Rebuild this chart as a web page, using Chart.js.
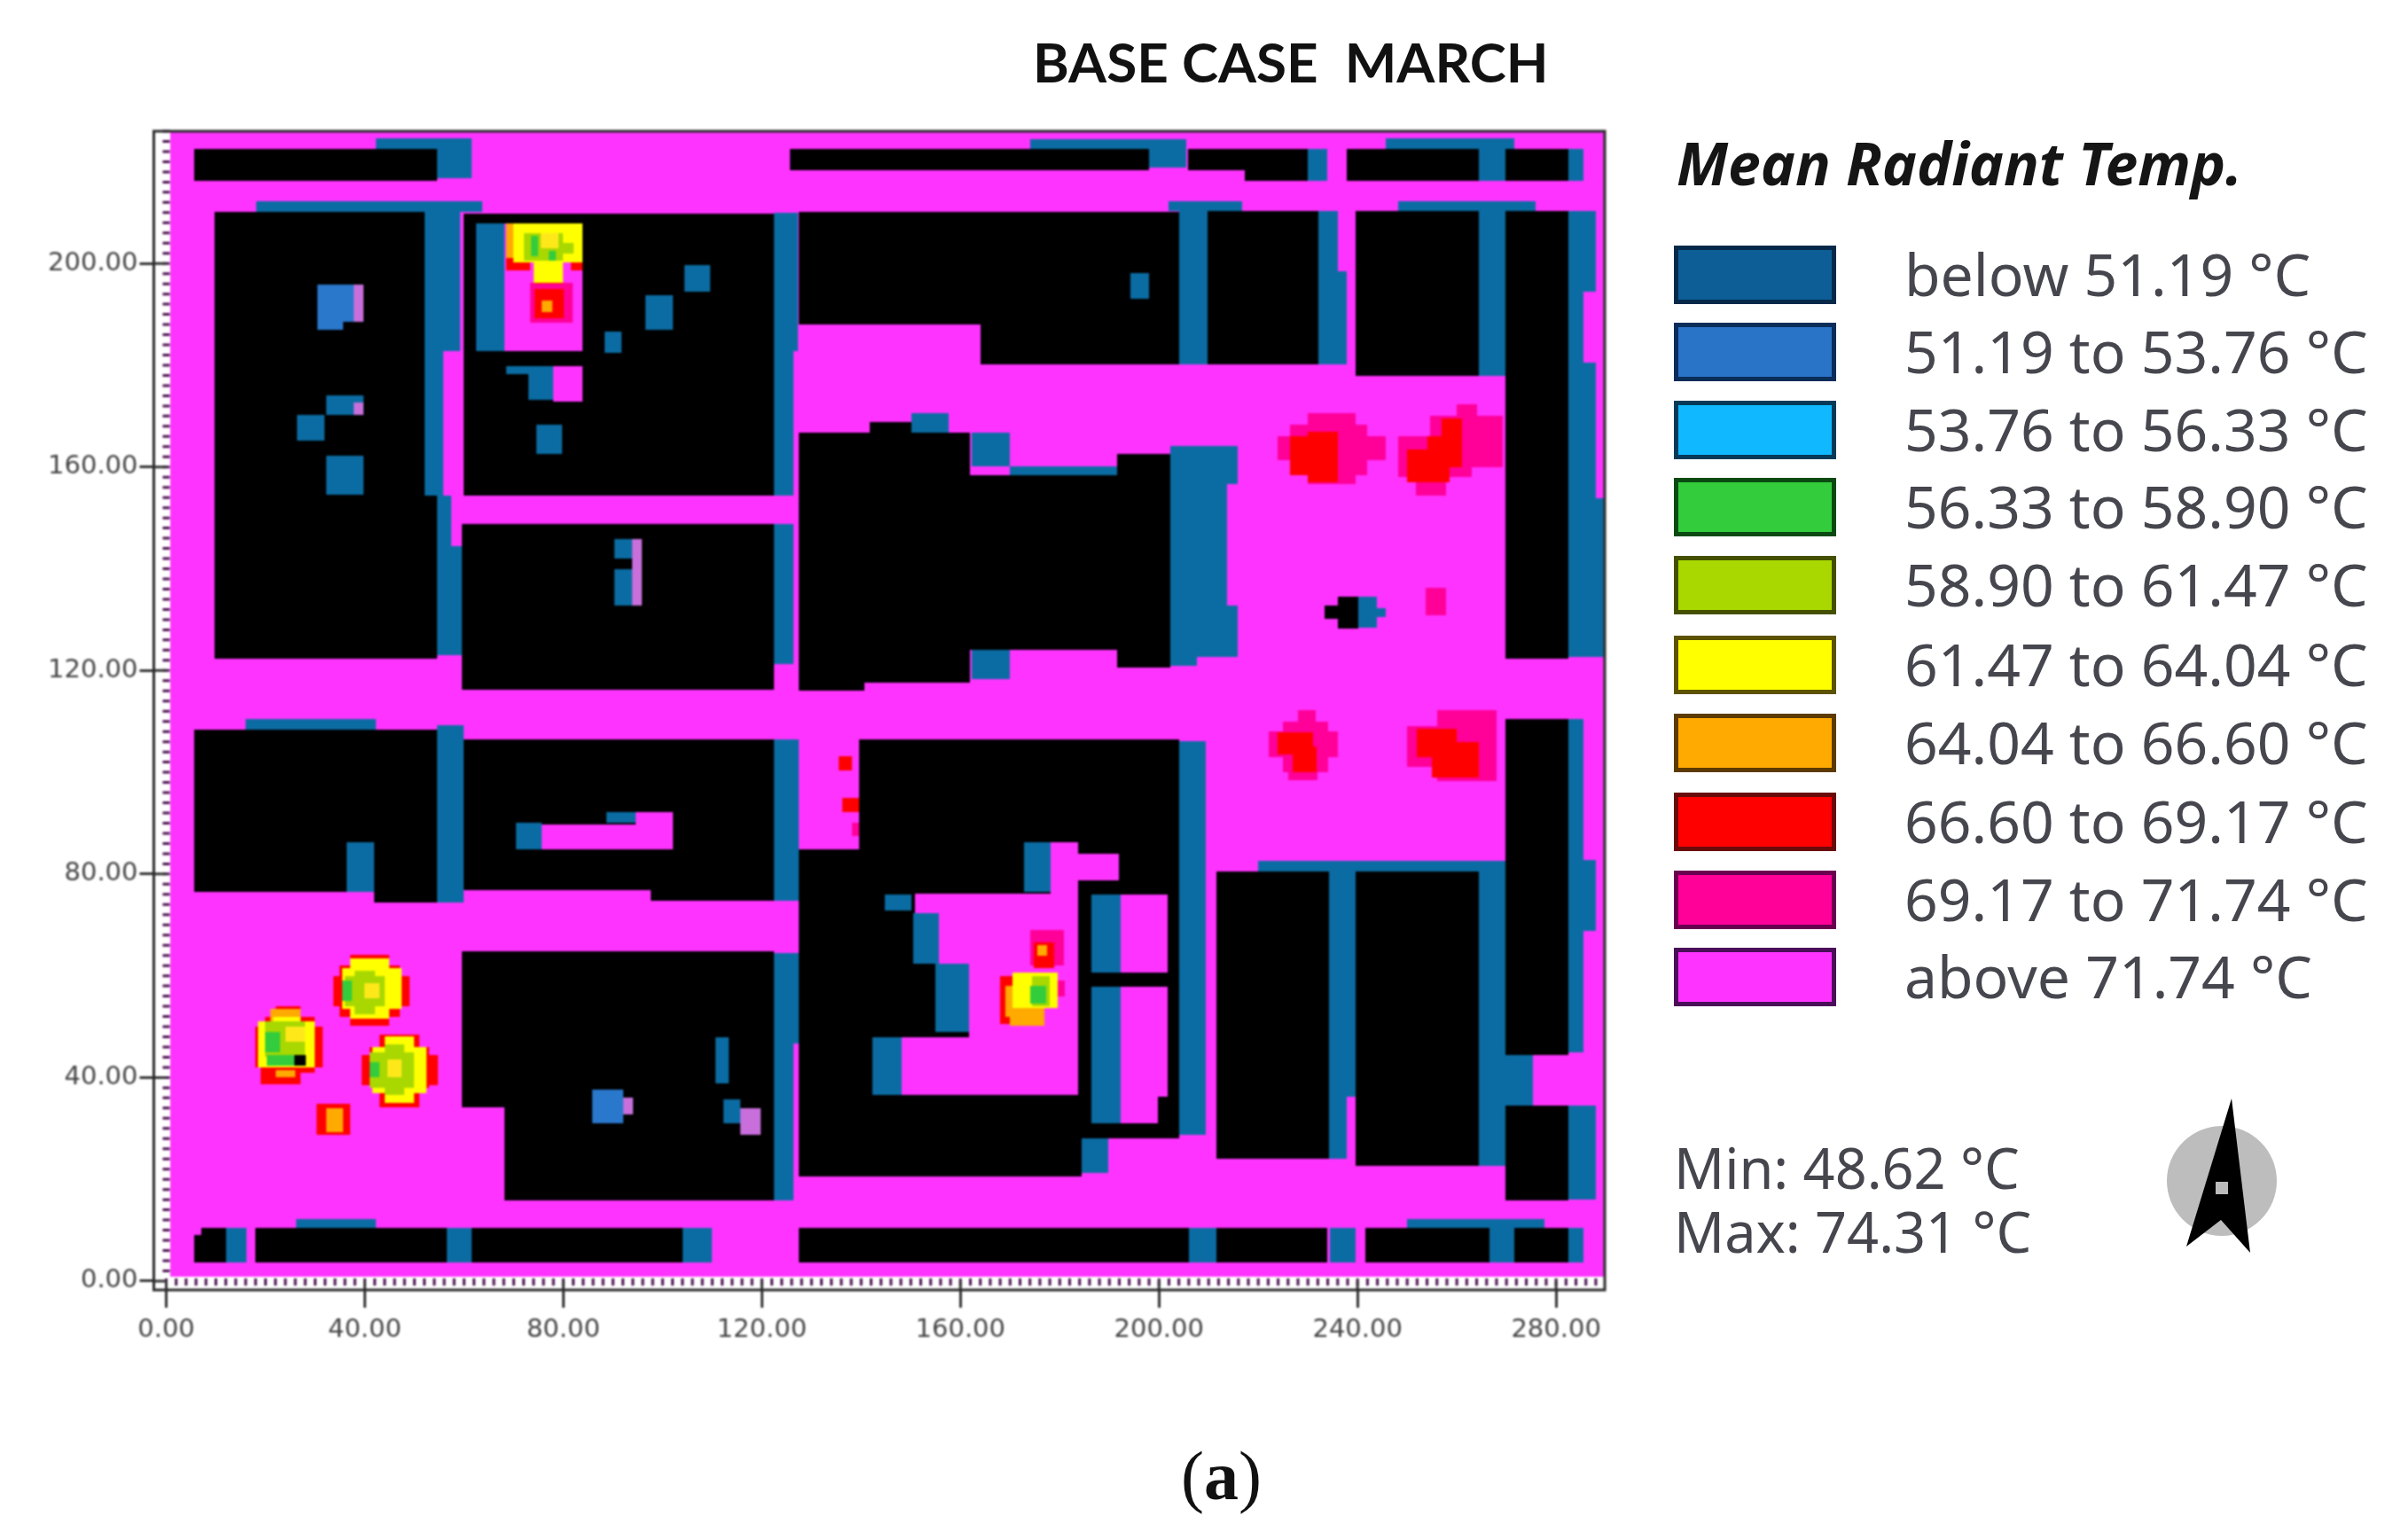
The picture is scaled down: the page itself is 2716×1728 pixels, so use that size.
<!DOCTYPE html>
<html><head><meta charset="utf-8">
<script src="https://cdn.jsdelivr.net/npm/chart.js@4/dist/chart.umd.min.js"></script>
<style>
html,body{margin:0;padding:0;background:#fff;width:2716px;height:1728px;overflow:hidden}
#c{position:absolute;left:0;top:0;filter:blur(1px)}
.t{position:absolute;white-space:pre;line-height:1;filter:blur(.7px)}
.lab{font-family:"Noto Sans";font-size:66px;color:#46464e;transform:translateY(-50%)}
.mm{font-size:63px}
.sw{position:absolute;left:1888px;width:173px;box-sizing:content-box;border:5px solid;filter:blur(.6px)}
svg{position:absolute;left:0;top:0}
</style></head><body>
<canvas id="c" width="2716" height="1728"></canvas>
<div id="over"></div>
<script>
const legendLabels=["below 51.19 °C","51.19 to 53.76 °C","53.76 to 56.33 °C","56.33 to 58.90 °C","58.90 to 61.47 °C","61.47 to 64.04 °C","64.04 to 66.60 °C","66.60 to 69.17 °C","69.17 to 71.74 °C","above 71.74 °C"];
const legendFill=["#0d5e96","#2a74c8","#0fb8ff","#33cc3c","#a8d800","#ffff00","#ffaa00","#ff0000","#ff0099","#ff33ff"];
const legendEdge=["#06294a","#0a2d5a","#063a58","#0a4a12","#445000","#5c5200","#5c3a00","#6a0a0a","#6a0050","#4a0f58"];
const xTickValues=[0,40,80,120,160,200,240,280];
const yTickValues=[0,40,80,120,160,200];

const groundCells=[[0.8,0.9,289.6,226]];
const buildingCells=[
[5.6,216.2,54.5,222.6],[125.6,218.3,198,222.6],[205.8,218.3,230,222.6],[217.3,216.2,230,218.3],[237.8,216.2,264.4,222.6],[269.8,216.2,282.5,222.6],
[9.7,154.3,52,210.1],[9.7,122.4,54.5,154.3],[60,154.3,122.5,209.8],[59.6,116.3,122.5,148.8],[127.4,188,164,210.1],[164,180.2,204,210.1],[209.8,180.2,232.1,210.4],[239.6,177.9,264.4,210.4],[269.8,122.4,282.5,210.4],
[127.4,117.7,162,166.8],[127.4,116,140.6,117.7],[141.7,166.8,150.2,168.9],[162,124,202.2,158.4],[191.5,120.5,202.2,162.5],
[5.6,76.5,54.5,108.4],[41.8,74.4,54.5,76.5],[60,76.8,122.5,106.4],[97.6,74.7,122.5,76.8],[139.6,76,204,106.4],[127.4,20.6,184.4,84.9],[184,28.1,204,76],
[211.6,24.1,234.2,80.5],[239.6,22.6,264.4,80.5],[269.8,44.5,282.5,110.5],[269.8,15.9,282.5,34.5],[59.6,34.2,122.5,64.8],[68.1,15.9,122.5,34.2],
[5.6,3.7,12.1,9],[7,9,12.1,10.4],[17.9,3.7,56.5,10.4],[61.6,3.7,104.1,10.4],[127.4,3.7,206.1,10.4],[211.6,3.7,233.9,10.4],[241.5,3.7,266.5,10.4],[271.6,3.7,282.5,10.4],
[236,128.2,240.2,134.6],[233.3,130.2,242.4,132.8]];
const shadeCells=[
[42.2,222.6,61.6,224.6],[54.5,216.8,61.6,222.6],[18.2,210.1,63.7,212.2],[52,182.8,59.3,210.1],[52,154.3,55.8,182.8],[54.5,144.5,57.5,154.3],[54.5,123,59.6,144.5],
[62.5,182.8,68.1,207.8],[32.3,170.3,37.7,174.1],[37.7,172.6,39.8,174.1],[26.4,165.1,31.9,170.3],[32.3,154.6,39.8,162.2],[72.9,173.2,78,178.2],[68.5,178.2,78,179.9],[74.6,162.5,79.8,168.3],[88.3,182.5,91.7,186.6],[96.5,186.9,102,193.8],[104.4,194.4,109.5,199.7],
[122.5,182.8,127.3,210],[122.5,154.3,126.3,182.8],[122.5,121.2,126.3,148.8],[90.3,142,93.8,145.9],[90.3,132.8,93.8,140],
[174.1,222.6,198,224.4],[198,218.8,205.5,224.4],[230,216.2,233.9,222.6],[245.7,222.6,271.6,224.6],[264.4,216.2,269.8,222.6],[282.5,216.2,285.5,222.6],[194.3,193,198,198.2],
[201.9,210.4,216.7,212.2],[204,180.2,209.8,210.4],[232.1,198.5,236,210.4],[232.1,180.2,237.8,198.5],[248.1,210.4,275.9,212.2],[264.4,177.9,269.8,210.4],
[282.5,122.7,285.5,210.4],[285.5,194.4,288,210.4],[285.5,122.7,288,180.5],[288,122.7,289.6,153.8],
[150.2,166.8,157.7,170.6],[162.2,160.1,170,166.8],[170,158.4,191.5,160.1],[162.2,118.3,170,124.1],
[202.2,132.8,213.7,156.6],[202.2,156.6,215.8,164.2],[202.2,122.7,215.8,132.8],[202.2,120.9,207.6,122.7],
[15.9,108.4,42.2,110.4],[54.5,74.4,60,109.3],[36.4,76.5,41.8,86.3],[70.5,84.9,75.6,90.1],[88.6,90.1,94.5,92.2],[122.5,74.7,127.4,106.4],
[172.8,76.5,178.2,86.3],[144.7,72.9,150.2,75.9],[150.5,62.4,155.7,72.3],[155,49,161.8,62.4],[142.3,36.6,148.2,47.9],[186.4,60.7,192.2,76],[186.4,31,192.2,57.8],[184.4,21.2,189.8,28.1],
[204,28.7,209.5,106.1],[234.2,36.3,239.6,80.5],[234.2,24.1,237.8,36.3],[220,80.5,269.8,82.6],[264.4,22.6,269.8,80.5],[282.5,45,285.5,110.5],[285.5,68.8,288,82.8],[269.8,34.5,275.3,44.5],[282.5,16,288,34.5],
[122.5,46.7,127.4,64.5],[122.5,15.9,126.3,46.7],[110.6,38.9,113.3,47.9],[112.3,31,115.7,35.7],
[12.1,3.7,16.2,10.4],[26.1,10.4,42.2,12.2],[56.5,3.7,61.6,10.4],[104.1,3.7,109.9,10.4],[206.1,3.7,211.6,10.4],[234.5,3.7,239.6,10.4],[249.9,10.4,277.7,12.2],[266.5,3.7,271.6,10.4],[282.5,3.7,285.5,10.4],
[240.2,128.5,243.9,134.6],[243.9,130.5,245.7,132.3]];
const blueCells=[[30.5,188.6,37.7,195.9],[30.5,186.9,35.7,188.6],[85.9,31,92,37.7]];
const patchCells=[
[68.1,182.8,83.9,207.8],[78,172.9,83.9,179.9],[75.6,84.9,102,89.8],[94.5,89.8,102,92.2],
[148.2,36.6,183.7,47.9],[161.8,47.9,183.7,62.4],[155.7,62.4,183.7,72.3],[150.9,72.3,183.7,76.2],[178.2,76,183.7,86.3],[183.7,78.8,191.9,84],
[192.2,60.7,201.8,76],[192.2,36.3,201.8,57.8],[192.2,31,199.8,36.3]];
const paleCells=[[37.7,188.6,39.8,195.9],[37.7,170.3,39.8,172.6],[93.8,132.8,95.8,145.9],[92,32.8,94,36],[115.7,28.7,119.8,34]];
const pinkCells=[
[253.8,130.8,257.8,136.3],[138.2,87.5,139.6,90],
[230,156.6,239.6,170.6],[226.4,158.4,242,168.3],[223.9,161.3,245.7,166],
[248.1,158,263,166],[251.7,154.3,257.8,160],[254.7,160,269.2,170],[259.9,163,264,172.3],
[225,100,234,110],[222.1,103,236,108],[226,98.5,232,103],[228,110,231.5,112.2],
[249.9,101,268,109],[256,98.3,268,112.2],
[73.3,188.4,81.9,196.2],[174,62,180.8,69],[179.6,56,181,59]];
const redCells=[
[226.4,158.4,236,166],[230,157,236,167],
[250,157,258.5,163.5],[254,160,261,166],[257,162,261,169.5],
[223.9,103.5,231,107.8],[227,100,231.8,105],
[252,103,260,108.5],[255,99,264.4,106],
[135.5,100.3,138.2,103.2],[136.2,92.2,139.6,95],
[68.5,198.6,73.3,201],[81.5,198.6,83.9,201],[74.3,196,80,198],[74.3,189.2,80.1,195],
[30.2,28.7,37,34.8],[174.8,61.5,178.9,66.5],[168,50.5,174,60],
[35,52,47,62],[37,50.2,45,64.2],[33.6,54,49,60],
[41,38,53,46],[43,34.2,51,48.5],[39.4,38.5,54.8,44.5],
[20,41,30,52],[18,42,31.5,50],[19,38.6,27,42],[22,38.6,27,54]];
const orangeCells=[[75.7,190.4,77.7,192.7],[68.5,201,70,207.8],[70,206.5,73,207.8],[32.3,29.2,35.7,34],[169,52,172,58],[170,50.2,177,53.7],[175.5,64,177.5,66],[22,40,26,41.5],[21,51,27,53.5]];
const yellowCells=[[70,200.2,83.9,207.8],[74,196.2,80,200.2],[170.5,53.7,179.6,60.7],
[37,51.5,45,63.5],[35.5,53.5,47.5,61.5],[41.5,37,52.5,46],[44,35,50,48],[18.5,42,30,51],[21.5,50,27,52]];
const limeCells=[[72,200.5,80,206],[80,202,82,204],[174.5,54,178,60],[36,54,44,60],[38,52.5,42,61],[41,38,50,45],[44,36.5,48,46.5],[20,44,28,51]];
const greenCells=[[73.5,201.5,75,205.5],[77,200.5,78.5,202.5],[174.1,54.6,177.2,58],[35.5,55,37.5,59],[41,40,43,43],[20,45,23,49],[20.3,42.4,25.8,44.4]];
const coreCells=[[75.5,203,79,206],[40,55.5,43,58.5],[44.5,40,47.5,43.5],[24,47,28,50]];
const spotCells=[[25.8,42.4,28.2,44.4]];

const toPts=a=>a.map(r=>({x:r[0],y:r[1],x2:r[2],y2:r[3]}));
const layer=(label,color,cells)=>({label,rectColor:color,data:toPts(cells),pointRadius:0,showLine:false});
const mrt=legendLabels;
const datasets=[
 layer(mrt[9],"#ff33ff",groundCells),layer("no data","#000000",buildingCells),layer(mrt[0],"#0b6ca3",shadeCells),layer(mrt[1],"#2a78cc",blueCells),
 layer(mrt[9],"#ff33ff",patchCells),layer(mrt[9],"#c86fdc",paleCells),layer(mrt[8],"#ff0099",pinkCells),layer(mrt[7],"#ff0000",redCells),
 layer(mrt[6],"#ffaa00",orangeCells),layer(mrt[5],"#ffff00",yellowCells),layer(mrt[4],"#a8d800",limeCells),layer(mrt[3],"#33cc3c",greenCells),
 layer(mrt[5],"#ffe81a",coreCells),layer("no data","#000000",spotCells)];

const cellPlugin={id:"cells",
 beforeDatasetsDraw(chart){
  const {ctx,scales:{x,y},chartArea:a}=chart;
  ctx.save();ctx.beginPath();ctx.rect(a.left,a.top,a.right-a.left,a.bottom-a.top);ctx.clip();
  chart.data.datasets.forEach(ds=>{
   ctx.fillStyle=ds.rectColor;
   ds.data.forEach(p=>{
    const l=Math.round(x.getPixelForValue(p.x)),r=Math.round(x.getPixelForValue(p.x2));
    const t=Math.round(y.getPixelForValue(p.y2)),b=Math.round(y.getPixelForValue(p.y));
    ctx.fillRect(l,t,r-l,b-t);
   });
  });
  ctx.restore();
 },
 afterDatasetsDraw(chart){
  const {ctx,scales:{x,y},chartArea:a}=chart;
  ctx.save();
  ctx.strokeStyle="#4a1050";ctx.lineWidth=3;ctx.beginPath();
  for(let v=0;v<=288;v+=2){const p=x.getPixelForValue(v);ctx.moveTo(p,a.bottom-13);ctx.lineTo(p,a.bottom-5);}
  for(let v=2;v<=226;v+=2){const p=y.getPixelForValue(v);ctx.moveTo(a.left+10,p);ctx.lineTo(a.left+18,p);}
  ctx.stroke();
  ctx.strokeStyle="#333";ctx.lineWidth=3;ctx.beginPath();
  xTickValues.forEach(v=>{const p=x.getPixelForValue(v);ctx.moveTo(p,a.bottom-10);ctx.lineTo(p,a.bottom);});
  yTickValues.forEach(v=>{const p=y.getPixelForValue(v);ctx.moveTo(a.left,p);ctx.lineTo(a.left+14,p);});
  ctx.stroke();
  ctx.strokeStyle="#2a2a2a";ctx.lineWidth=3;ctx.strokeRect(a.left,a.top,a.right-a.left,a.bottom-a.top);
  ctx.restore();
 }};

const tickFont={family:"'DejaVu Sans'",size:29};
new Chart(document.getElementById("c"),{type:"scatter",data:{datasets},plugins:[cellPlugin],
 options:{responsive:false,animation:false,devicePixelRatio:1,events:[],
  layout:{padding:{left:0,top:148,right:906,bottom:213}},
  plugins:{legend:{display:false},tooltip:{enabled:false},title:{display:false}},
  scales:{
   x:{type:"linear",min:-2.5,max:289.8,afterBuildTicks:s=>{s.ticks=xTickValues.map(v=>({value:v}));},afterFit:s=>{s.height=60;},
      grid:{drawOnChartArea:false,drawTicks:true,tickLength:20,tickColor:"#333",lineWidth:3},border:{display:false},
      ticks:{color:"#444",font:tickFont,padding:8,maxRotation:0,autoSkip:false,callback:v=>Number(v).toFixed(2)}},
   y:{type:"linear",min:-1.75,max:226,afterBuildTicks:s=>{s.ticks=yTickValues.map(v=>({value:v}));},afterFit:s=>{s.width=173.5;},
      grid:{drawOnChartArea:false,drawTicks:true,tickLength:16,tickColor:"#333",lineWidth:3},border:{display:false},
      ticks:{color:"#444",font:tickFont,padding:2,autoSkip:false,callback:v=>Number(v).toFixed(2)}}
  }}});

const over=document.getElementById("over");
const add=(cls,text,style)=>{const d=document.createElement("div");d.className=cls;d.textContent=text;d.style.cssText=style;over.appendChild(d);return d;};
const swatchTops=[277,364,452,539,627,717,805,894,982,1069];
legendLabels.forEach((s,i)=>{
 add("sw","",`top:${swatchTops[i]}px;height:56px;background:${legendFill[i]};border-color:${legendEdge[i]}`);
 add("t lab",s,`left:2148px;top:${swatchTops[i]+31}px`);
});
add("t","BASE CASE  MARCH","left:1165px;top:32px;font:700 62px Lato;color:#111");
add("t","Mean Radiant Temp.","left:1891px;top:138px;font:italic 700 66px 'Noto Sans';color:#151515");
add("t lab mm","Min: 48.62 °C","left:1888px;top:1316px");
add("t lab mm","Max: 74.31 °C","left:1888px;top:1388px");
const a=add("t","","left:1332px;top:1620px;font:78px 'Liberation Serif';color:#111");
a.innerHTML='(<b>a</b>)';
over.insertAdjacentHTML("beforeend",`<svg width="2716" height="1728"><circle cx="2506" cy="1332" r="62" fill="#bdbdbd"/><polygon points="2517,1239 2538,1413 2505,1376 2466,1406" fill="#000"/><rect x="2499" y="1333" width="14" height="14" fill="#bbb"/></svg>`);
</script></body></html>
